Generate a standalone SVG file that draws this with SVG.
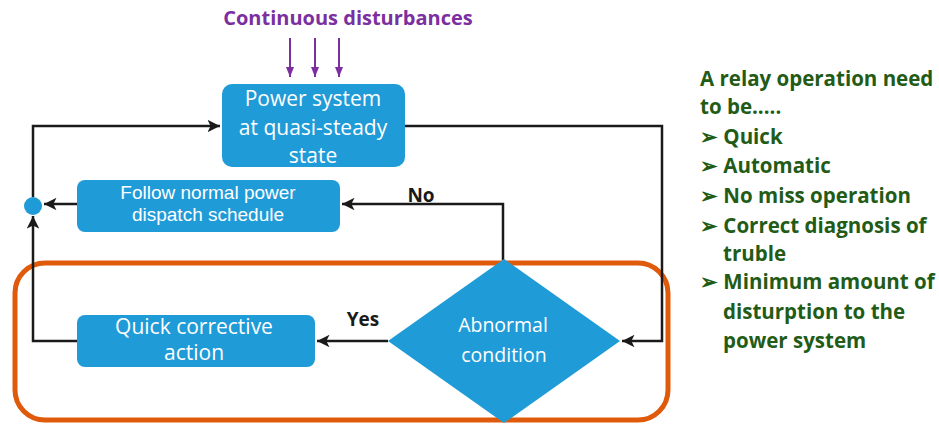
<svg xmlns="http://www.w3.org/2000/svg" width="939" height="424" viewBox="0 0 939 424">
  <defs>
    <style>
      .node { fill: #1F9BD7; }
      .ntext { fill: #ffffff; font-family: "Open Sans", "Liberation Sans", sans-serif; text-anchor: middle; }
      .ntext-tight { fill: #ffffff; font-family: "Liberation Sans", Arial, sans-serif; text-anchor: middle; }
      .wire { fill: none; stroke: #1a1a1a; stroke-width: 2.5; }
      .dist { fill: none; stroke: #7B2FA0; stroke-width: 2; }
      .lbl { fill: #1a1a1a; font-family: "Open Sans", "Liberation Sans", sans-serif; font-weight: bold; font-size: 19px; }
      .note { fill: #225B16; font-family: "Open Sans", "Liberation Sans", sans-serif; font-weight: bold; font-size: 20.5px; }
    </style>
    <marker id="arrow" viewBox="0 0 10 10" refX="10" refY="5" markerWidth="5" markerHeight="5" orient="auto" markerUnits="strokeWidth">
      <path d="M0,0 L10,5 L0,10 L2.5,5 Z" fill="#1a1a1a"/>
    </marker>
    <marker id="parrow" viewBox="0 0 10 10" refX="10" refY="5" markerWidth="5" markerHeight="5" orient="auto" markerUnits="strokeWidth">
      <path d="M0,1 L10,5 L0,9 Z" fill="#7B2FA0"/>
    </marker>
  </defs>

  <rect width="939" height="424" fill="#ffffff"/>

  <!-- disturbance inputs -->
  <g id="disturbances">
    <text x="348" y="25" fill="#7B2FA0" font-family="'Open Sans', 'Liberation Sans', sans-serif" font-weight="bold" font-size="20" text-anchor="middle">Continuous disturbances</text>
    <line class="dist" x1="290" y1="38" x2="290" y2="77" marker-end="url(#parrow)"/>
    <line class="dist" x1="315" y1="38" x2="315" y2="77" marker-end="url(#parrow)"/>
    <line class="dist" x1="339" y1="38" x2="339" y2="77" marker-end="url(#parrow)"/>
  </g>

  <!-- protected zone -->
  <rect id="relay-zone" x="15" y="263" width="653" height="157" rx="30" fill="none" stroke="#E05A0C" stroke-width="5"/>

  <!-- connectors -->
  <g id="connectors">
    <path class="wire" d="M405,126 H662 V341 H622" marker-end="url(#arrow)"/>
    <path class="wire" d="M33,197 V126 H220" marker-end="url(#arrow)"/>
    <path class="wire" d="M503,260 V204 H342" marker-end="url(#arrow)"/>
    <path class="wire" d="M77,204 H44" marker-end="url(#arrow)"/>
    <path class="wire" d="M388,341 H317" marker-end="url(#arrow)"/>
    <path class="wire" d="M77,341 H33 V216" marker-end="url(#arrow)"/>
    <text class="lbl" x="421" y="202" text-anchor="middle">No</text>
    <text class="lbl" x="363" y="326" text-anchor="middle">Yes</text>
  </g>

  <g id="junction">
    <circle class="node" cx="33" cy="206" r="9"/>
  </g>

  <g id="power-system">
    <rect class="node" x="222" y="84" width="183" height="83" rx="10"/>
    <text class="ntext" font-size="21" x="313" y="106">Power system</text>
    <text class="ntext" font-size="21" x="313" y="135">at quasi-steady</text>
    <text class="ntext" font-size="21" x="313" y="163">state</text>
  </g>

  <g id="normal-dispatch">
    <rect class="node" x="77" y="180" width="263" height="52" rx="8"/>
    <text class="ntext-tight" font-size="19" x="208" y="199">Follow normal power</text>
    <text class="ntext-tight" font-size="19" x="208" y="221">dispatch schedule</text>
  </g>

  <g id="corrective-action">
    <rect class="node" x="77" y="315" width="238" height="52" rx="8"/>
    <text class="ntext" font-size="21" x="194" y="334">Quick corrective</text>
    <text class="ntext" font-size="21" x="194" y="360">action</text>
  </g>

  <g id="abnormal-condition">
    <polygon class="node" points="504,259 620,341 504,423 388,341"/>
    <text class="ntext" font-size="19.5" x="503" y="332">Abnormal</text>
    <text class="ntext" font-size="19.5" x="504" y="362">condition</text>
  </g>

  <!-- requirements list -->
  <g id="requirements">
    <text class="note" x="700" y="86">A relay operation need</text>
    <text class="note" x="700" y="114">to be.....</text>
    <text class="note" x="700" y="144">➢ Quick</text>
    <text class="note" x="700" y="173">➢ Automatic</text>
    <text class="note" x="700" y="203">➢ No miss operation</text>
    <text class="note" x="700" y="233">➢ Correct diagnosis of</text>
    <text class="note" x="723" y="261">truble</text>
    <text class="note" x="700" y="289">➢ Minimum amount of</text>
    <text class="note" x="723" y="319">disturption to the</text>
    <text class="note" x="723" y="348">power system</text>
  </g>
</svg>
